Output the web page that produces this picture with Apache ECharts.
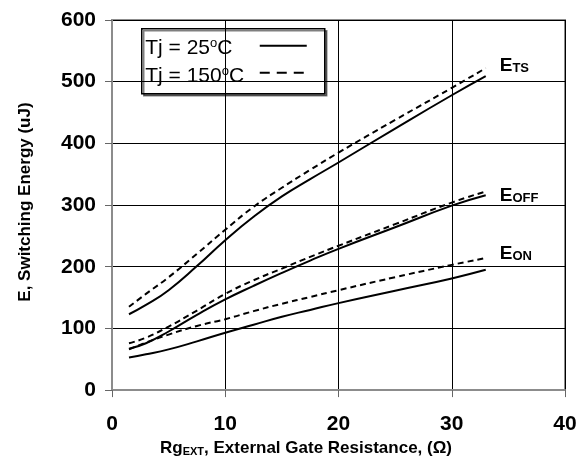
<!DOCTYPE html>
<html><head><meta charset="utf-8">
<script src="https://cdn.jsdelivr.net/npm/echarts@6/dist/echarts.min.js"></script>
<style>html,body{margin:0;padding:0;background:#fff}#c{width:585px;height:462px}</style>
</head><body><div id="c"></div>
<script>
var rg = [1.5, 3, 5, 7.5, 10, 12.5, 15, 17.5, 20, 25, 30, 33];
var ets25   = [123, 138, 162, 201, 243, 281, 314, 342, 369, 424, 478, 509];
var ets150  = [135, 156, 183, 221, 260, 297, 328, 357, 385, 438, 490, 522];
var eoff25  = [67, 76, 95, 122, 147, 169, 190, 210, 229, 264, 299, 316];
var eoff150 = [76, 85, 103, 129, 156, 178, 197, 216, 234, 269, 304, 322];
var eon25   = [53, 58, 66, 79, 93, 106, 119, 130, 141, 161, 181, 195];
var eon150  = [66, 77, 90, 104, 115, 128, 140, 151, 162, 183, 203, 214];
var xTicks = [0, 10, 20, 30, 40];
var yTicks = [0, 100, 200, 300, 400, 500, 600];
var curveLabels = ['TS', 'OFF', 'ON'];
var legendNames = ['Tj = 25', 'Tj = 150'];

function pts(v){ return rg.map(function(x,i){ return [x, v[i]]; }); }
var FONT = 'Liberation Sans, Arial, sans-serif';
function solid(v){
  return {type:'line', name:legendNames[0], data:pts(v), smooth:0.5, symbol:'none',
    lineStyle:{color:'#000', width:2}, itemStyle:{color:'#000'}, z:3};
}
function dashed(v, lab, off){
  return {type:'line', name:legendNames[1], data:pts(v), smooth:0.5, symbol:'none',
    lineStyle:{color:'#000', width:2, type:[6,4]}, itemStyle:{color:'#000'}, z:3,
    endLabel:{show:true, distance:14, offset:[0, off], fontFamily:FONT, fontWeight:'bold', fontSize:19, color:'#000',
      formatter:'{e|E}{s|' + lab + '}',
      rich:{e:{fontFamily:FONT, fontWeight:'bold', fontSize:19, color:'#000'},
            s:{fontFamily:FONT, fontWeight:'bold', fontSize:13, color:'#000', padding:[5,0,0,0]}}}};
}
var legendRich = {s:{fontFamily:FONT, fontSize:13, color:'#000', padding:[0,0,9,0]}};
var chart = echarts.init(document.getElementById('c'), null, {renderer:'canvas'});
chart.setOption({
  animation:false,
  backgroundColor:'#fff',
  grid:{left:112, right:20, top:20, bottom:69, show:true, borderColor:'#8c8c8c', borderWidth:2, backgroundColor:'transparent'},
  xAxis:{type:'value', min:xTicks[0], max:xTicks[xTicks.length-1], interval:10,
    name:'Rg{sub|EXT}, External Gate Resistance, (Ω)', nameLocation:'middle', nameGap:46,
    nameTextStyle:{fontFamily:FONT, fontWeight:'bold', fontSize:17, color:'#000', padding:[0,65,0,0],
      rich:{sub:{fontFamily:FONT, fontWeight:'bold', fontSize:11, color:'#000', padding:[6,0,0,0]}}},
    axisLine:{show:true, lineStyle:{color:'#8c8c8c', width:2}},
    axisTick:{show:true, inside:false, length:7, lineStyle:{color:'#666', width:1}},
    axisLabel:{fontFamily:FONT, fontWeight:'bold', fontSize:21, color:'#000', margin:24},
    splitLine:{show:true, lineStyle:{color:'#000', width:1}}
  },
  yAxis:{type:'value', min:yTicks[0], max:yTicks[yTicks.length-1], interval:100,
    name:'E, Switching Energy (uJ)', nameLocation:'middle', nameGap:78,
    nameTextStyle:{fontFamily:FONT, fontWeight:'bold', fontSize:17, color:'#000', padding:[0,0,0,6]},
    axisLine:{show:true, lineStyle:{color:'#8c8c8c', width:2}},
    axisTick:{show:true, inside:false, length:7, lineStyle:{color:'#666', width:1}},
    axisLabel:{fontFamily:FONT, fontWeight:'bold', fontSize:21, color:'#000', margin:16},
    splitLine:{show:true, lineStyle:{color:'#000', width:1}}
  },
  graphic:[{
    type:'group', left:141, top:28, z:10,
    children:[
      {type:'rect', shape:{x:0, y:0, width:183, height:65},
        style:{fill:'#fff', stroke:'#000', lineWidth:1.5, shadowColor:'rgba(0,0,0,0.5)', shadowOffsetX:2, shadowOffsetY:2, shadowBlur:0}},
      {type:'text', x:3.5, y:19, style:{text:legendNames[0] + '{s|o}C', fontFamily:FONT, fontSize:21, fill:'#000', verticalAlign:'middle', rich:legendRich}},
      {type:'text', x:3.5, y:47.5, style:{text:legendNames[1] + '{s|o}C', fontFamily:FONT, fontSize:21, fill:'#000', verticalAlign:'middle', rich:legendRich}},
      {type:'line', shape:{x1:118, y1:17, x2:165, y2:17}, style:{stroke:'#000', lineWidth:2}},
      {type:'line', shape:{x1:118, y1:44, x2:165, y2:44}, style:{stroke:'#000', lineWidth:2, lineDash:[10,7]}}
    ]
  }],
  series:[
    solid(ets25), dashed(ets150, curveLabels[0], -2),
    solid(eoff25), dashed(eoff150, curveLabels[1], 4),
    solid(eon25), dashed(eon150, curveLabels[2], -4)
  ]
});
</script></body></html>
